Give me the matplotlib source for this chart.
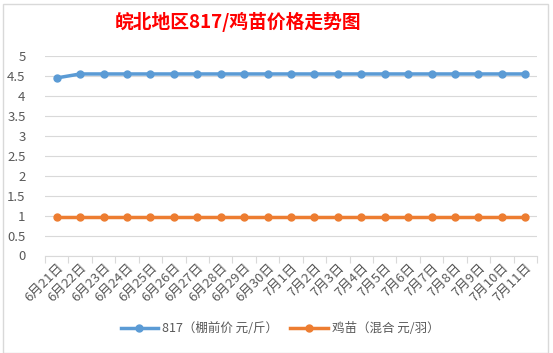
import numpy as np
import matplotlib
matplotlib.use("Agg")
import matplotlib.pyplot as plt
from matplotlib.patches import Rectangle

plt.rcParams['font.family'] = ['Noto Sans CJK SC', 'DejaVu Sans']

# data
dates = ["6月21日", "6月22日", "6月23日", "6月24日", "6月25日", "6月26日", "6月27日",
         "6月28日", "6月29日", "6月30日", "7月1日", "7月2日", "7月3日", "7月4日",
         "7月5日", "7月6日", "7月7日", "7月8日", "7月9日", "7月10日", "7月11日"]
price_817 = [4.45, 4.55, 4.55, 4.55, 4.55, 4.55, 4.55, 4.55, 4.55, 4.55, 4.55,
             4.55, 4.55, 4.55, 4.55, 4.55, 4.55, 4.55, 4.55, 4.55, 4.55]
price_chick = [0.97, 0.97, 0.97, 0.97, 0.97, 0.97, 0.97, 0.97, 0.97, 0.97, 0.97,
               0.97, 0.97, 0.97, 0.97, 0.97, 0.97, 0.97, 0.97, 0.97, 0.97]

fig = plt.figure(figsize=(5.53, 3.53), dpi=100)
# chart frame
fig.patches.append(Rectangle((0.006, 0.0), 0.985, 0.99, transform=fig.transFigure,
                             fill=False, edgecolor="#d9d9d9", lw=1))

ax = fig.add_axes([45/553, 1 - 255.5/353, (537 - 45)/553, 199.5/353])

x = np.arange(len(dates))
ax.plot(x, price_817, color="#5b9bd5", lw=2.5, marker="o", ms=5, label="817（棚前价 元/斤）")
ax.plot(x, price_chick, color="#ed7d31", lw=2.5, marker="o", ms=5, label="鸡苗（混合 元/羽）")

ax.set_xlim(-0.5, len(dates) - 0.5)
ax.set_ylim(0, 5)
ax.set_yticks(np.arange(0, 5.01, 0.5))
ax.set_yticklabels(["0", "0.5", "1", "1.5", "2", "2.5", "3", "3.5", "4", "4.5", "5"])
ax.grid(axis="y", color="#d9d9d9", lw=0.8)
ax.set_axisbelow(True)

# category axis: tick marks between categories
ax.set_xticks(np.arange(-0.5, len(dates), 1.0))
ax.set_xticklabels([])
ax.set_xticks(x, minor=True)
ax.set_xticklabels(dates, minor=True, rotation=45, ha="right", va="top",
                   rotation_mode="anchor")
ax.tick_params(axis="x", which="major", length=5, color="#d9d9d9")
ax.tick_params(axis="x", which="minor", length=0, pad=4, labelsize=9.5, labelcolor="#595959")
ax.tick_params(axis="y", length=0, labelsize=9.5, labelcolor="#595959", pad=14)

for s in ["top", "right", "left"]:
    ax.spines[s].set_visible(False)
ax.spines["bottom"].set_color("#d9d9d9")

fig.text(238/553, 1 - 22/353, "皖北地区817/鸡苗价格走势图", color="red", fontsize=13.5,
         fontweight="bold", ha="center", va="center")

fig.legend(loc="center", bbox_to_anchor=(280/553, 1 - 329/353), ncol=2, frameon=False,
           fontsize=9, labelcolor="#595959", handlelength=3, columnspacing=1.0,
           handletextpad=0.3)

fig.savefig("out.png", dpi=100)
